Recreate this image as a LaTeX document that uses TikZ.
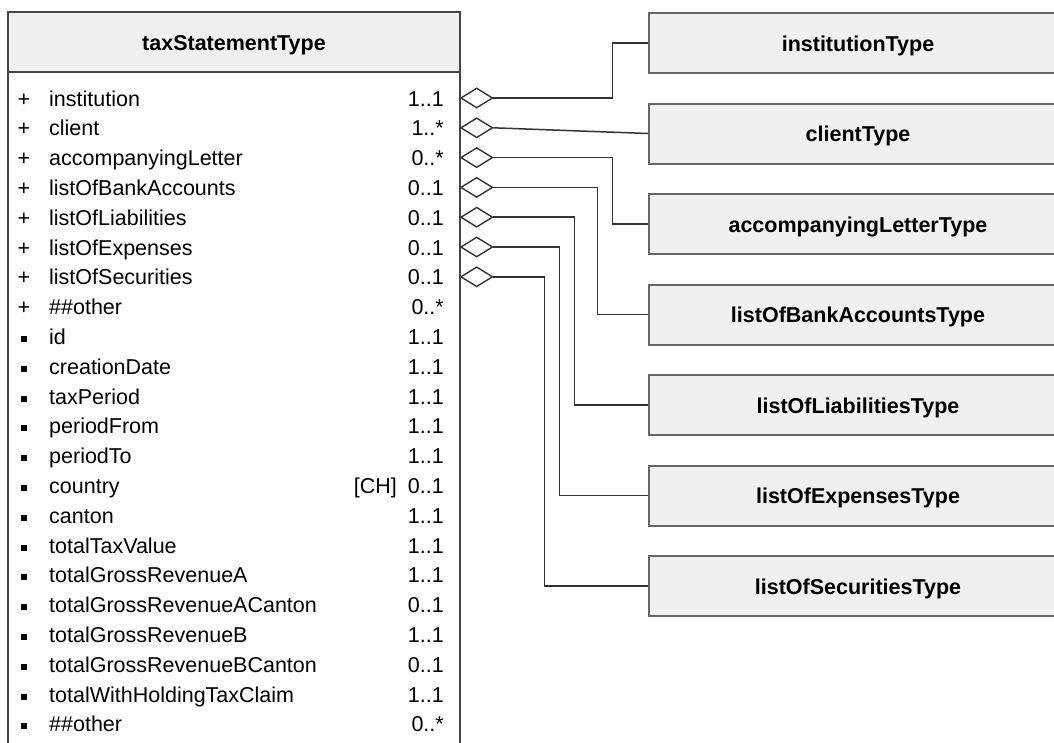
\documentclass[tikz,border=0pt]{standalone}
\usepackage{fontspec}
\setmainfont{Liberation Sans}
\usetikzlibrary{shapes.geometric}
\definecolor{boxfill}{HTML}{F0F0F0}
\definecolor{boxline}{HTML}{666666}
\definecolor{classline}{HTML}{454545}
\definecolor{linkline}{HTML}{333333}
\tikzset{
  typebox/.style={draw=boxline,line width=2pt,fill=boxfill,anchor=north west,
    minimum width=418pt,minimum height=60pt,inner sep=0pt,
    font=\bfseries\fontsize{21.5}{25}\selectfont,text height=17pt,text depth=1pt},
  attr/.style={inner sep=0pt,font=\fontsize{21.5}{25}\selectfont},
  agg/.style={diamond,draw=linkline,line width=1.4pt,fill=white,anchor=west,
    minimum width=32pt,minimum height=20pt,inner sep=0pt},
  link/.style={draw=linkline,line width=1.5pt}
}
\begin{document}
\begin{tikzpicture}[x=1pt,y=-1pt]
  \useasboundingbox (0,0) rectangle (1054,742);
  \clip (0,0) rectangle (1054,742);
  % class box
  \draw[classline,line width=2pt,fill=white] (8,12) rectangle (460,780);
  \draw[classline,line width=2pt,fill=boxfill] (8,12) rectangle (460,72);
  \node[attr,font=\bfseries\fontsize{21.5}{25}\selectfont,text height=17pt,text depth=1pt] (head) at (234,42) {taxStatementType};
  % elements
  \foreach \name/\mult [count=\i from 0] in {institution/1..1, client/1..*, accompanyingLetter/0..*,
      listOfBankAccounts/0..1, listOfLiabilities/0..1, listOfExpenses/0..1, listOfSecurities/0..1, \#\#other/0..*}
  {
    \node[attr,anchor=base] (p\i) at (24,106+29.8*\i) {+};
    \node[attr,anchor=base west] (a\i) at (49,106+29.8*\i) {\name};
    \node[attr,anchor=base east] (m\i) at (444,106+29.8*\i) {\mult};
  }
  % attributes
  \foreach \name/\mult [count=\i from 8] in {id/1..1, creationDate/1..1, taxPeriod/1..1, periodFrom/1..1,
      periodTo/1..1, country/0..1, canton/1..1, totalTaxValue/1..1, totalGrossRevenueA/1..1,
      totalGrossRevenueACanton/0..1, totalGrossRevenueB/1..1, totalGrossRevenueBCanton/0..1,
      totalWithHoldingTaxClaim/1..1, \#\#other/0..*}
  {
    \fill (21,97.5+29.8*\i) rectangle ++(5.5,6);
    \node[attr,anchor=base west] (a\i) at (49,106+29.8*\i) {\name};
    \node[attr,anchor=base east] (m\i) at (444,106+29.8*\i) {\mult};
  }
  \node[attr,anchor=base east] (chDefault) at (397,106+29.8*13) {[CH]};
  % aggregation diamonds
  \foreach \i in {0,...,6}
    \node[agg] (d\i) at (460,98+29.8*\i) {};
  % types
  \foreach \t [count=\i from 0] in {institutionType, clientType, accompanyingLetterType,
      listOfBankAccountsType, listOfLiabilitiesType, listOfExpensesType, listOfSecuritiesType}
    \node[typebox] (t\i) at (648,12+90.5*\i) {\t};
  % links
  \draw[link] (d1.east) -- (t1.west);
  \foreach \i/\dx in {0/119, 2/119, 3/104, 4/81, 5/66, 6/51}
    \draw[link] (d\i.east) -- ++(\dx,0) |- (t\i.west);
\end{tikzpicture}
\end{document}
